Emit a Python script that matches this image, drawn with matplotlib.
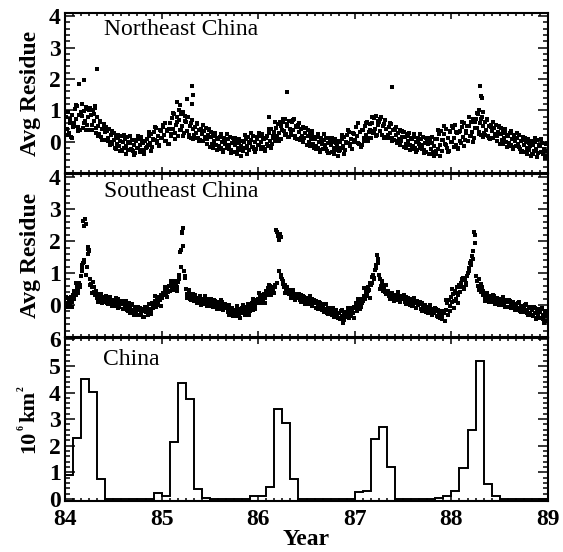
"""Residue time series for NE / SE China with monthly area histogram."""

import matplotlib
matplotlib.use("Agg")
import matplotlib.pyplot as plt
import numpy as np
from matplotlib.ticker import MultipleLocator, FixedLocator

# ---- data -----------------------------------------------------------------
# eight samples per month, Jan 1984 .. Dec 1988
ne_residue = [
    # 1984
    0.77, 0.41, 0.93, 0.28, 0.60, 0.15, 0.84, 0.48,
    0.59, 1.04, 0.72, 1.15, 0.48, 0.86, 0.37, 0.93,
    0.83, 0.45, 0.97, 0.65, 1.10, 0.54, 0.77, 1.02,
    0.36, 0.84, 0.52, 1.00, 0.65, 1.08, 0.44, 0.80,
    0.51, 0.25, 0.62, 0.15, 0.39, 0.06, 0.56, 0.30,
    0.05, 0.33, 0.13, 0.40, -0.02, 0.22, -0.09, 0.26,
    0.05, -0.19, 0.14, -0.06, 0.22, -0.13, 0.01, 0.17,
    -0.31, -0.01, -0.21, 0.09, -0.13, 0.14, -0.26, -0.04,
    -0.03, -0.23, 0.06, -0.30, -0.12, -0.37, 0.01, -0.19,
    -0.20, 0.08, -0.12, 0.15, -0.27, -0.03, -0.34, 0.01,
    -0.21, 0.09, -0.11, 0.19, -0.03, 0.24, -0.16, 0.06,
    0.31, 0.05, 0.42, -0.05, 0.19, -0.14, 0.36, 0.10,
    # 1985
    0.12, 0.48, 0.22, 0.58, 0.03, 0.34, -0.06, 0.39,
    0.59, 0.18, 0.74, 0.40, 0.87, 0.28, 0.52, 0.79,
    0.19, 0.70, 0.36, 0.87, 0.50, 0.96, 0.28, 0.65,
    0.63, 0.33, 0.77, 0.22, 0.50, 0.12, 0.69, 0.39,
    0.20, 0.48, 0.28, 0.55, 0.13, 0.37, 0.06, 0.41,
    0.25, 0.01, 0.34, 0.14, 0.42, 0.07, 0.21, 0.37,
    -0.16, 0.14, -0.06, 0.24, 0.02, 0.29, -0.11, 0.11,
    0.07, -0.13, 0.16, -0.20, -0.02, -0.27, 0.11, -0.09,
    -0.20, 0.08, -0.12, 0.15, -0.27, -0.03, -0.34, 0.01,
    -0.10, -0.34, -0.01, -0.21, 0.07, -0.28, -0.14, 0.02,
    -0.31, -0.01, -0.21, 0.09, -0.13, 0.14, -0.26, -0.04,
    0.05, -0.16, 0.18, -0.22, 0.00, -0.25, 0.09, -0.11,
    # 1986
    -0.10, 0.18, -0.02, 0.25, -0.17, 0.07, -0.24, 0.11,
    0.17, -0.15, 0.28, 0.02, 0.39, -0.07, 0.11, 0.32,
    0.03, 0.42, 0.16, 0.55, 0.26, 0.61, 0.09, 0.38,
    0.61, 0.35, 0.72, 0.25, 0.49, 0.16, 0.66, 0.40,
    0.27, 0.63, 0.37, 0.73, 0.18, 0.49, 0.09, 0.54,
    0.30, 0.06, 0.39, 0.19, 0.47, 0.12, 0.26, 0.42,
    -0.11, 0.19, -0.01, 0.29, 0.07, 0.34, -0.06, 0.16,
    0.07, -0.13, 0.16, -0.20, -0.02, -0.27, 0.11, -0.09,
    -0.22, 0.06, -0.10, 0.13, -0.29, -0.05, -0.36, 0.03,
    -0.10, -0.34, -0.01, -0.21, 0.07, -0.28, -0.14, 0.02,
    -0.31, -0.01, -0.21, 0.09, -0.13, 0.14, -0.26, -0.04,
    0.21, -0.05, 0.32, -0.15, 0.09, -0.24, 0.26, 0.00,
    # 1987
    0.05, 0.47, 0.17, 0.58, -0.06, 0.31, -0.16, 0.37,
    0.38, 0.01, 0.51, 0.21, 0.63, 0.10, 0.32, 0.56,
    0.13, 0.59, 0.28, 0.74, 0.40, 0.81, 0.21, 0.54,
    0.63, 0.33, 0.77, 0.22, 0.50, 0.12, 0.69, 0.39,
    0.20, 0.48, 0.28, 0.55, 0.13, 0.37, 0.06, 0.41,
    0.20, -0.04, 0.29, 0.09, 0.37, 0.02, 0.16, 0.32,
    -0.16, 0.14, -0.06, 0.24, 0.02, 0.29, -0.11, 0.11,
    0.07, -0.13, 0.16, -0.20, -0.02, -0.27, 0.11, -0.09,
    -0.20, 0.08, -0.12, 0.15, -0.27, -0.03, -0.34, 0.01,
    -0.08, -0.40, 0.03, -0.23, 0.14, -0.32, -0.14, 0.07,
    -0.39, 0.09, -0.23, 0.25, -0.10, 0.33, -0.31, 0.05,
    0.24, -0.08, 0.39, -0.19, 0.10, -0.30, 0.31, -0.01,
    # 1988
    0.00, 0.42, 0.12, 0.53, -0.11, 0.26, -0.21, 0.32,
    0.33, -0.04, 0.46, 0.16, 0.58, 0.05, 0.27, 0.51,
    0.03, 0.49, 0.18, 0.64, 0.30, 0.71, 0.11, 0.44,
    0.73, 0.43, 0.87, 0.32, 0.60, 0.22, 0.79, 0.49,
    0.27, 0.63, 0.37, 0.73, 0.18, 0.49, 0.09, 0.54,
    0.35, 0.11, 0.44, 0.24, 0.52, 0.17, 0.31, 0.47,
    -0.06, 0.24, 0.04, 0.34, 0.12, 0.39, -0.01, 0.21,
    0.17, -0.03, 0.26, -0.10, 0.08, -0.17, 0.21, 0.01,
    -0.15, 0.13, -0.07, 0.20, -0.22, 0.02, -0.29, 0.06,
    -0.10, -0.34, -0.01, -0.21, 0.07, -0.28, -0.14, 0.02,
    -0.41, -0.11, -0.31, -0.01, -0.23, 0.04, -0.36, -0.14,
    -0.13, -0.33, -0.04, -0.40, -0.22, -0.47, -0.09, -0.29,
]

# four more samples per month, halfway between the ones above
ne_residue_extra = [
    # 1984
    0.93, 0.21, 0.72, 0.12, 0.50, 1.17, 0.34, 0.86,
    1.21, 0.58, 0.37, 1.03, 1.08, 0.36, 0.87, 0.27,
    0.17, 0.65, 0.06, 0.43, 0.48, 0.03, -0.12, 0.35,
    0.27, -0.24, 0.12, -0.31, -0.28, 0.20, -0.39, -0.02,
    0.18, -0.27, -0.42, 0.05, 0.17, -0.34, 0.02, -0.41,
    -0.18, 0.30, -0.29, 0.08, 0.48, 0.03, -0.12, 0.35,
    # 1985
    0.52, 0.01, 0.37, -0.06, 0.25, 0.92, 0.09, 0.61,
    1.01, 0.38, 0.17, 0.83, 0.77, 0.16, 0.59, 0.08,
    0.12, 0.60, 0.01, 0.38, 0.53, 0.08, -0.07, 0.40,
    0.32, -0.19, 0.17, -0.26, -0.23, 0.25, -0.34, 0.03,
    0.23, -0.22, -0.37, 0.10, 0.12, -0.39, -0.03, -0.46,
    -0.28, 0.20, -0.39, -0.02, 0.28, -0.17, -0.32, 0.15,
    # 1986
    0.27, -0.24, 0.12, -0.31, -0.08, 0.40, -0.19, 0.18,
    0.63, 0.18, 0.03, 0.50, 0.72, 0.21, 0.57, 0.14,
    0.22, 0.70, 0.11, 0.48, 0.58, 0.13, -0.02, 0.45,
    0.37, -0.14, 0.22, -0.21, -0.23, 0.25, -0.34, 0.03,
    0.23, -0.22, -0.37, 0.10, 0.12, -0.39, -0.03, -0.46,
    -0.28, 0.20, -0.39, -0.02, 0.38, -0.07, -0.22, 0.25,
    # 1987
    0.47, -0.04, 0.32, -0.11, 0.12, 0.60, 0.01, 0.38,
    0.78, 0.33, 0.18, 0.65, 0.72, 0.21, 0.57, 0.14,
    0.12, 0.60, 0.01, 0.38, 0.48, 0.03, -0.12, 0.35,
    0.32, -0.19, 0.17, -0.26, -0.23, 0.25, -0.34, 0.03,
    0.23, -0.22, -0.37, 0.10, 0.12, -0.39, -0.03, -0.46,
    -0.30, 0.37, -0.46, 0.06, 0.51, -0.12, -0.33, 0.33,
    # 1988
    0.50, -0.16, 0.31, -0.25, 0.02, 0.64, -0.13, 0.35,
    0.78, 0.19, 0.00, 0.61, 0.90, 0.24, 0.71, 0.15,
    0.22, 0.70, 0.11, 0.48, 0.63, 0.18, 0.03, 0.50,
    0.42, -0.09, 0.27, -0.16, -0.13, 0.35, -0.24, 0.13,
    0.28, -0.17, -0.32, 0.15, 0.12, -0.39, -0.03, -0.46,
    -0.38, 0.10, -0.49, -0.12, 0.08, -0.37, -0.52, -0.05,
]

se_residue = [
    # 1984
    0.05, 0.22, -0.05, 0.15, 0.02, 0.25, 0.10, 0.30,
    0.20, 0.42, 0.30, 0.55, 0.48, 0.70, 0.62, 0.90,
    1.05, 1.30, 1.40, 2.70, 2.55, 1.20, 1.82, 1.72,
    0.80, 0.65, 0.55, 0.72, 0.40, 0.30, 0.45, 0.22,
    0.28, 0.12, 0.22, 0.35, 0.15, 0.25, 0.08, 0.20,
    0.18, 0.05, 0.22, 0.12, 0.26, 0.02, 0.16, 0.10,
    0.12, -0.02, 0.15, 0.06, 0.20, -0.05, 0.08, 0.03,
    0.02, -0.12, 0.08, -0.05, 0.12, -0.15, -0.02, 0.05,
    -0.08, -0.22, 0.02, -0.15, -0.28, -0.05, -0.18, -0.30,
    -0.15, -0.32, -0.08, -0.25, -0.12, -0.38, -0.20, -0.05,
    -0.22, -0.08, -0.30, -0.12, 0.02, -0.18, 0.05, -0.10,
    0.00, 0.12, -0.05, 0.20, 0.08, 0.25, 0.15, 0.32,
    # 1985
    0.22, 0.38, 0.30, 0.48, 0.35, 0.55, 0.42, 0.60,
    0.45, 0.62, 0.52, 0.70, 0.58, 0.75, 0.65, 0.55,
    0.72, 0.95, 1.65, 1.72, 2.30, 2.42, 1.08, 0.85,
    0.50, 0.35, 0.28, 0.42, 0.20, 0.30, 0.15, 0.25,
    0.12, 0.25, 0.18, 0.08, 0.22, 0.14, 0.28, 0.10,
    0.15, 0.05, 0.20, 0.12, 0.02, 0.18, 0.08, 0.14,
    0.08, -0.02, 0.12, 0.04, 0.16, -0.05, 0.06, 0.10,
    0.00, -0.12, 0.06, -0.06, 0.10, -0.15, -0.02, 0.04,
    -0.10, -0.22, 0.00, -0.18, -0.30, -0.08, -0.20, -0.34,
    -0.15, -0.35, -0.05, -0.25, -0.12, -0.40, -0.22, -0.08,
    -0.25, -0.12, -0.32, -0.05, -0.18, 0.02, -0.10, -0.20,
    -0.08, 0.05, -0.15, 0.10, 0.00, 0.15, 0.06, 0.20,
    # 1986
    0.12, 0.25, 0.05, 0.30, 0.18, 0.35, 0.22, 0.45,
    0.30, 0.52, 0.40, 0.60, 0.48, 0.42, 0.55, 0.38,
    0.55, 2.35, 2.30, 2.15, 2.05, 2.22, 0.95, 0.80,
    0.75, 0.55, 0.62, 0.45, 0.52, 0.38, 0.48, 0.35,
    0.42, 0.30, 0.38, 0.25, 0.35, 0.22, 0.32, 0.28,
    0.25, 0.15, 0.30, 0.20, 0.12, 0.26, 0.18, 0.22,
    0.15, 0.05, 0.20, 0.10, 0.02, 0.18, 0.08, 0.12,
    0.05, -0.08, 0.10, -0.02, 0.08, -0.12, 0.02, -0.05,
    -0.05, -0.18, 0.02, -0.12, -0.25, -0.08, -0.20, -0.15,
    -0.18, -0.30, -0.10, -0.25, -0.35, -0.15, -0.28, -0.40,
    -0.25, -0.45, -0.20, -0.35, -0.55, -0.28, -0.38, -0.22,
    -0.30, -0.15, -0.40, -0.20, -0.32, -0.10, -0.25, -0.05,
    # 1987
    -0.10, 0.05, -0.18, 0.10, 0.00, 0.15, -0.05, 0.20,
    0.12, 0.28, 0.20, 0.40, 0.35, 0.55, 0.48, 0.70,
    0.62, 0.87, 0.95, 0.80, 1.10, 1.25, 1.56, 1.45,
    0.95, 0.80, 0.60, 0.70, 0.45, 0.55, 0.40, 0.35,
    0.42, 0.28, 0.35, 0.22, 0.38, 0.25, 0.18, 0.32,
    0.30, 0.20, 0.35, 0.25, 0.15, 0.28, 0.22, 0.18,
    0.22, 0.10, 0.26, 0.15, 0.05, 0.20, 0.12, 0.18,
    0.10, -0.02, 0.15, 0.05, -0.08, 0.12, 0.00, 0.08,
    0.02, -0.12, 0.05, -0.08, -0.18, 0.00, -0.10, -0.05,
    -0.10, -0.22, -0.05, -0.18, -0.30, -0.12, -0.25, -0.08,
    -0.20, -0.35, -0.15, -0.28, -0.42, -0.22, -0.32, -0.18,
    -0.25, -0.50, -0.15, 0.05, -0.30, 0.15, -0.20, 0.25,
    # 1988
    0.10, 0.35, -0.10, 0.45, 0.20, 0.55, 0.30, 0.62,
    0.40, 0.70, 0.55, 0.85, 0.50, 0.78, 0.62, 0.90,
    1.00, 1.15, 1.30, 1.38, 1.55, 1.70, 2.30, 2.20,
    0.90, 0.75, 0.60, 0.82, 0.50, 0.40, 0.55, 0.32,
    0.35, 0.22, 0.30, 0.15, 0.28, 0.12, 0.25, 0.20,
    0.22, 0.10, 0.28, 0.15, 0.05, 0.20, 0.12, 0.18,
    0.15, 0.05, 0.20, 0.10, 0.02, 0.15, 0.08, 0.12,
    0.08, -0.05, 0.12, 0.00, -0.10, 0.06, -0.02, 0.04,
    0.00, -0.12, 0.05, -0.08, -0.18, -0.02, -0.14, -0.06,
    -0.08, -0.22, 0.02, -0.15, -0.30, -0.10, -0.25, -0.05,
    -0.15, -0.35, -0.05, -0.25, -0.45, -0.12, -0.30, -0.20,
    -0.22, -0.40, -0.10, -0.30, -0.55, -0.18, -0.35, -0.25,
]

se_residue_extra = [
    # 1984
    0.26, 0.00, 0.18, -0.05, 0.43, 0.68, 0.37, 0.56,
    1.15, 1.35, 0.95, 1.60, 0.64, 0.38, 0.56, 0.33,
    0.11, 0.36, 0.05, 0.24, 0.28, 0.02, 0.20, -0.03,
    -0.02, 0.23, -0.08, 0.11, 0.13, -0.13, 0.05, -0.18,
    -0.24, 0.01, -0.30, -0.11, -0.06, -0.32, -0.14, -0.37,
    -0.21, 0.04, -0.27, -0.08, 0.27, 0.01, 0.19, -0.04,
    # 1985
    0.32, 0.57, 0.26, 0.45, 0.74, 0.48, 0.66, 0.43,
    0.80, 1.20, 1.85, 0.90, 0.21, 0.46, 0.15, 0.34,
    0.31, 0.05, 0.23, 0.00, 0.03, 0.28, -0.03, 0.16,
    0.20, -0.06, 0.12, -0.11, -0.10, 0.15, -0.16, 0.03,
    -0.04, -0.30, -0.12, -0.35, -0.29, -0.04, -0.35, -0.16,
    -0.01, -0.27, -0.09, -0.32, -0.05, 0.20, -0.11, 0.08,
    # 1986
    0.38, 0.12, 0.30, 0.07, 0.37, 0.62, 0.31, 0.50,
    0.62, 0.70, 1.05, 0.88, 0.65, 0.39, 0.57, 0.34,
    0.23, 0.48, 0.17, 0.36, 0.35, 0.09, 0.27, 0.04,
    0.02, 0.27, -0.04, 0.15, 0.14, -0.12, 0.06, -0.17,
    -0.22, 0.03, -0.28, -0.09, -0.11, -0.37, -0.19, -0.42,
    -0.42, -0.17, -0.48, -0.29, -0.08, -0.34, -0.16, -0.39,
    # 1987
    -0.07, 0.18, -0.13, 0.06, 0.53, 0.27, 0.45, 0.22,
    0.70, 0.85, 1.15, 1.30, 0.51, 0.76, 0.45, 0.64,
    0.44, 0.18, 0.36, 0.13, 0.15, 0.40, 0.09, 0.28,
    0.30, 0.04, 0.22, -0.01, -0.04, 0.21, -0.10, 0.09,
    0.08, -0.18, 0.00, -0.23, -0.25, 0.00, -0.31, -0.12,
    -0.12, -0.38, -0.20, -0.43, -0.22, 0.15, -0.32, -0.03,
    # 1988
    0.51, 0.12, 0.39, 0.05, 0.57, 0.82, 0.51, 0.70,
    1.08, 1.25, 1.45, 1.95, 0.74, 0.48, 0.66, 0.43,
    0.14, 0.39, 0.08, 0.27, 0.30, 0.04, 0.22, -0.01,
    0.01, 0.26, -0.05, 0.14, 0.16, -0.10, 0.08, -0.15,
    -0.16, 0.09, -0.22, -0.03, 0.01, -0.25, -0.07, -0.30,
    -0.33, -0.08, -0.39, -0.20, -0.11, -0.45, -0.21, -0.51,
]

# isolated high values (decimal year, residue)
ne_outlier_year = [84.15, 84.20, 84.33, 84.31, 85.16, 85.19, 85.26, 85.31, 85.32,
                   85.31, 86.30, 86.11, 87.38, 88.30, 88.31, 88.32, 88.29, 88.33]
ne_outlier_val = [1.84, 1.97, 2.32, 1.12, 1.27, 1.18, 1.37, 1.77, 1.50,
                  1.20, 1.58, 0.80, 1.73, 1.78, 1.47, 1.40, 1.02, 0.95]
se_outlier_year = [84.19, 84.20, 84.24, 84.25, 84.18, 85.21, 86.24]
se_outlier_val = [2.62, 2.48, 1.76, 1.68, 1.25, 2.25, 2.12]

# monthly area, 10^6 km^2
china_area = [
    0.90, 2.30, 4.50, 4.03, 0.74, 0, 0, 0, 0, 0, 0, 0.21,
    0.09, 2.13, 4.35, 3.76, 0.36, 0.04, 0, 0, 0, 0, 0, 0.09,
    0.09, 0.44, 3.38, 2.84, 0.74, 0, 0, 0, 0, 0, 0, 0,
    0.25, 0.30, 2.26, 2.72, 1.19, 0, 0, 0, 0, 0, 0.02, 0.09,
    0.30, 1.15, 2.59, 5.20, 0.56, 0.09, 0, 0, 0, 0, 0, 0,
]

year_ticks = [84, 85, 86, 87, 88, 89]
residue_ticks = [0, 1, 2, 3, 4]
area_ticks = [0, 1, 2, 3, 4, 5, 6]

# ---- plotting -------------------------------------------------------------
plt.rcParams["font.family"] = ["Liberation Serif", "DejaVu Serif"]

sample_year = 84 + (np.arange(len(ne_residue)) + 0.5) / 96.0
extra_year = 84 + (np.arange(len(ne_residue_extra)) + 0.5) / 48.0
month_edges = np.linspace(84, 89, len(china_area) + 1)

fig = plt.figure(figsize=(5.63, 5.52), dpi=100)
W, H = 563.0, 552.0
left, right = 65 / W, 548 / W


def panel(top_px, bottom_px):
    return fig.add_axes([left, 1 - bottom_px / H, right - left,
                         (bottom_px - top_px) / H])


def style(ax, yticks, show_xlabels):
    ax.set_xlim(84, 89)
    ax.xaxis.set_major_locator(FixedLocator(year_ticks))
    ax.xaxis.set_minor_locator(MultipleLocator(1 / 12))
    ax.yaxis.set_major_locator(FixedLocator(yticks))
    ax.yaxis.set_minor_locator(MultipleLocator(0.2))
    ax.tick_params(which="both", direction="in", top=True, right=True,
                   width=1.1, labelsize=17)
    ax.tick_params(axis="x", which="major", length=4)
    ax.tick_params(axis="x", which="minor", length=2)
    ax.tick_params(axis="y", which="major", length=7)
    ax.tick_params(axis="y", which="minor", length=3.5)
    ax.tick_params(axis="x", labelbottom=show_xlabels, pad=6)
    ax.tick_params(axis="y", pad=3)
    for lab in ax.get_xticklabels() + ax.get_yticklabels():
        lab.set_fontweight("bold")
    for sp in ax.spines.values():
        sp.set_linewidth(1.5)


def px_text(x, y, s, size):
    # vertical label pieces placed in pixel coordinates from the top left
    fig.text(x / W, 1 - y / H, s, rotation=90, fontsize=size,
             fontweight="bold", ha="center", va="center")


dot = dict(marker="s", linestyle="none", ms=2.2, mew=0, color="black")

ax1 = panel(13, 173)
ax1.plot(sample_year, ne_residue, **dot)
ax1.plot(extra_year, ne_residue_extra, **dot)
ax1.plot(ne_outlier_year, ne_outlier_val, **dot)
ax1.set_ylim(-1, 4.1)
style(ax1, residue_ticks, False)
ax1.text(0.081, 0.96, "Northeast China", transform=ax1.transAxes,
         fontsize=17, va="top", ha="left")
ax1.set_ylabel("Avg Residue", fontsize=17, fontweight="bold", labelpad=6)

ax2 = panel(174, 337)
ax2.plot(sample_year, se_residue, **dot)
ax2.plot(extra_year, se_residue_extra, **dot)
ax2.plot(se_outlier_year, se_outlier_val, **dot)
ax2.set_ylim(-1, 4.1)
style(ax2, residue_ticks, False)
ax2.text(0.081, 0.96, "Southeast China", transform=ax2.transAxes,
         fontsize=17, va="top", ha="left")
ax2.set_ylabel("Avg Residue", fontsize=17, fontweight="bold", labelpad=6)

ax3 = panel(338, 501)
ax3.stairs(china_area, month_edges, color="black", linewidth=1.4)
ax3.set_ylim(-0.08, 6.05)
style(ax3, area_ticks, True)
ax3.text(0.078, 0.93, "China", transform=ax3.transAxes,
         fontsize=17, va="top", ha="left")
ax3.set_xlabel("Year", fontsize=17, fontweight="bold", labelpad=-1)

# "10^6 km^2" built from pieces so the exponents stay small
px_text(29, 442, "10", 16)
px_text(21, 428, "6", 7)
px_text(29, 406, "km", 16)
px_text(21, 389, "2", 7)

fig.savefig("out.png", dpi=100)
plt.close(fig)
